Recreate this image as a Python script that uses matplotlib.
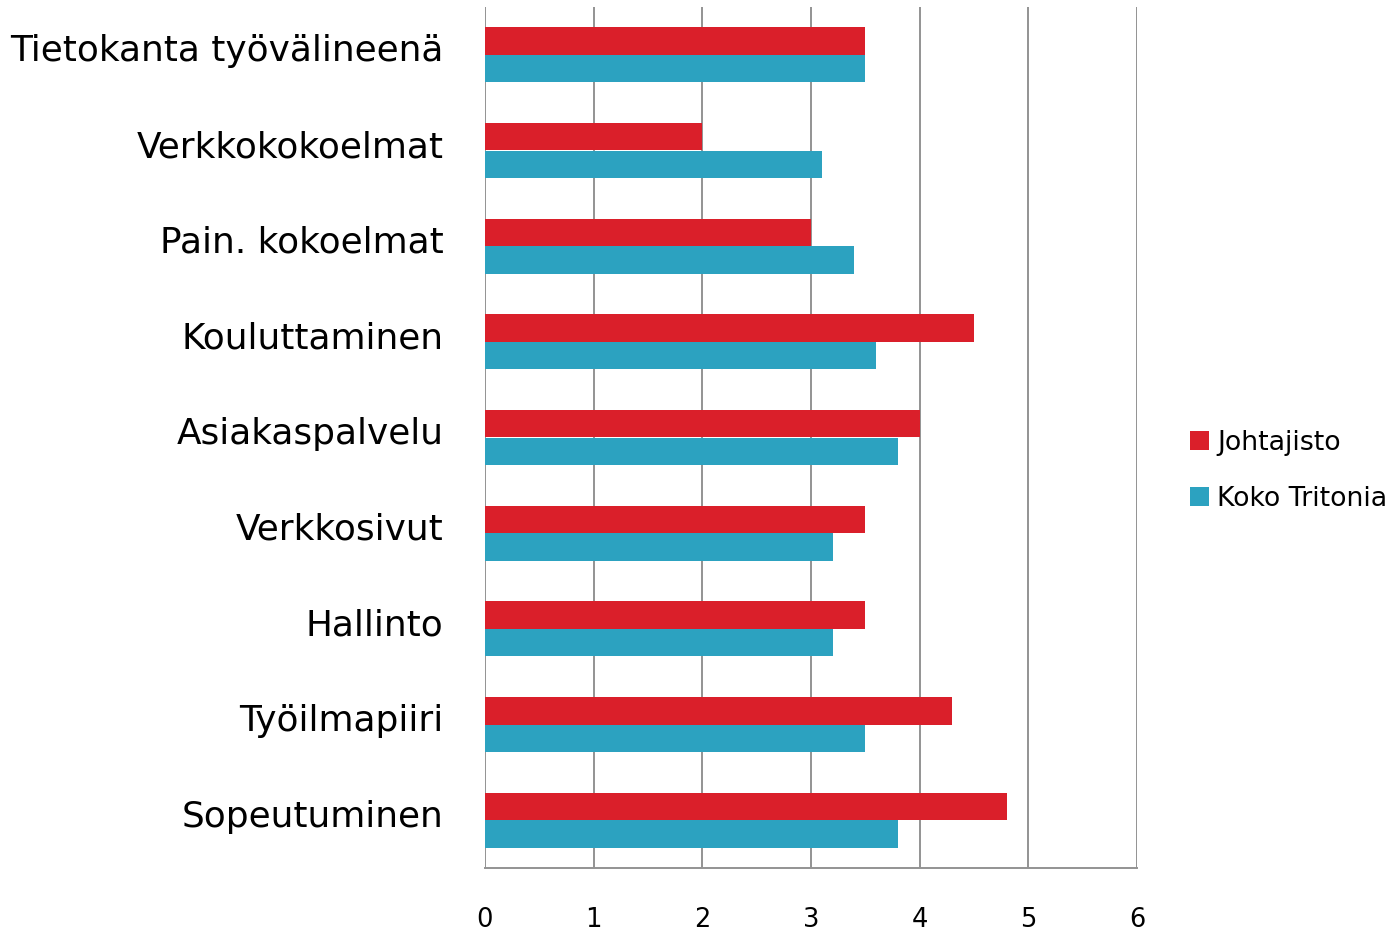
import matplotlib
matplotlib.use("Agg")
import matplotlib.pyplot as plt
import matplotlib.transforms as mtransforms
import numpy as np

categories = ["Tietokanta työvälineenä", "Verkkokokoelmat", "Pain. kokoelmat",
              "Kouluttaminen", "Asiakaspalvelu", "Verkkosivut", "Hallinto",
              "Työilmapiiri", "Sopeutuminen"]
johtajisto = [3.5, 2.0, 3.0, 4.5, 4.0, 3.5, 3.5, 4.3, 4.8]
koko_tritonia = [3.5, 3.1, 3.4, 3.6, 3.8, 3.2, 3.2, 3.5, 3.8]
series_names = ["Johtajisto", "Koko Tritonia"]
xticks = [0, 1, 2, 3, 4, 5, 6]

red = "#DA1F2A"
blue = "#2CA2C0"
grid = "#939393"

plt.rcParams['font.family'] = ['DejaVu Sans']

fig = plt.figure(figsize=(13.98, 9.33), dpi=100)
ax = fig.add_axes([485/1398, 1-868/933, (1137-485)/1398, (868-7)/933])

y = np.arange(len(categories))
h = 0.288
ax.barh(y - h/2, johtajisto, height=h, color=red, label=series_names[0], zorder=3)
ax.barh(y + h/2, koko_tritonia, height=h, color=blue, label=series_names[1], zorder=3)

ax.set_ylim(len(categories) - 0.5, -0.5)
ax.set_xlim(0, 6)
ax.set_xticks(xticks)
ax.set_xticklabels([str(t) for t in xticks], fontsize=18.5)
ax.set_yticks(y)
ax.set_yticklabels(categories, fontsize=25.8)
ax.tick_params(axis='y', length=0, pad=30)
ax.tick_params(axis='x', length=0, pad=28)
offset = mtransforms.ScaledTranslation(0, 7/100, fig.dpi_scale_trans)
for lbl in ax.get_yticklabels():
    lbl.set_transform(lbl.get_transform() + offset)
for s in ["top", "right", "left"]:
    ax.spines[s].set_visible(False)
ax.spines["bottom"].set_color(grid)
ax.spines["bottom"].set_linewidth(1.4)
ax.xaxis.grid(True, color=grid, linewidth=1.4, zorder=0)
ax.set_axisbelow(True)

fig.legend(loc="center left", bbox_to_anchor=(1177/1398, 1-471/933), frameon=False,
           fontsize=19.3, handlelength=0.7, handleheight=0.7, handletextpad=0.3,
           labelspacing=1.1, borderpad=0)

fig.savefig("out.png", dpi=100)
